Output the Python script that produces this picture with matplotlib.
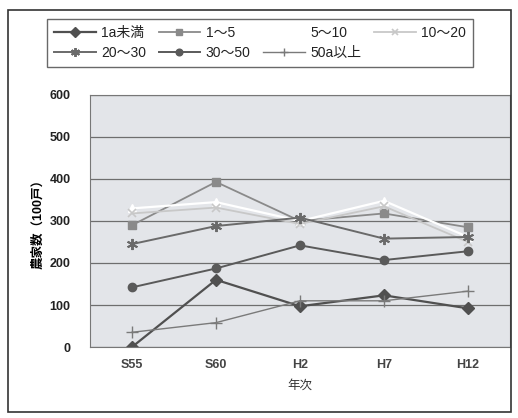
import matplotlib
matplotlib.use("Agg")
import matplotlib.pyplot as plt
from matplotlib.patches import Rectangle

plt.rcParams['font.family'] = ['Liberation Sans', 'Noto Sans CJK JP', 'DejaVu Sans']

years = ['S55', 'S60', 'H2', 'H7', 'H12']
labels = ['1a未満', '1～5', '5～10', '10～20', '20～30', '30～50', '50a以上']

# 農家数 (100戸) by farm size class
lt1 = [0, 160, 97, 123, 92]
s1_5 = [290, 393, 300, 318, 285]
s5_10 = [330, 345, 300, 348, 262]
s10_20 = [318, 332, 293, 335, 250]
s20_30 = [245, 288, 308, 258, 262]
s30_50 = [142, 187, 242, 207, 228]
ge50 = [35, 58, 110, 110, 133]

series = [lt1, s1_5, s5_10, s10_20, s20_30, s30_50, ge50]
styles = [
    dict(color='#505050', marker='D', ms=6, lw=1.6),
    dict(color='#8a8a8a', marker='s', ms=6, lw=1.3),
    dict(color='#ffffff', marker='^', ms=6, lw=1.6),
    dict(color='#c8c8c8', marker='x', ms=6, lw=1.3, mew=1.2),
    dict(color='#6a6a6a', marker=(6, 2, 0), ms=8, lw=1.4, mew=1.4),
    dict(color='#5a5a5a', marker='o', ms=6, lw=1.4),
    dict(color='#7a7a7a', marker='+', ms=8, lw=1.0, mew=1.0),
]

fig = plt.figure(figsize=(5.18, 4.18), dpi=100)
fig.patches.append(Rectangle((8 / 518, 6 / 418), 503 / 518, 402 / 418,
                             transform=fig.transFigure, fill=False,
                             ec='#333333', lw=1.2))

ax = fig.add_axes([90 / 518, 1 - 347 / 418, 420 / 518, 252 / 418])
ax.set_facecolor('#e3e5e9')

x = range(len(years))
handles = []
for ys, lab, st in zip(series, labels, styles):
    h, = ax.plot(x, ys, label=lab, **st)
    handles.append(h)

ax.set_xlim(-0.5, 4.5)
ax.set_ylim(0, 600)
ax.set_yticks(range(0, 601, 100))
ax.set_xticks(list(x))
ax.set_xticklabels(years)
ax.yaxis.grid(True, color='#6e6e6e', lw=0.9)
ax.set_axisbelow(True)
ax.tick_params(length=0, labelsize=9, colors='#222222')
ax.tick_params(axis='y', pad=14)
ax.tick_params(axis='x', pad=9, colors='#444444')
for t in ax.get_xticklabels() + ax.get_yticklabels():
    t.set_fontweight('bold')
for sp in ax.spines.values():
    sp.set_color('#777777')

ax.set_xlabel('年次', fontsize=9, labelpad=6, color='#333333')
ax.set_ylabel('農家数（100戸）', fontsize=9, labelpad=4, fontweight='bold')

order = [0, 4, 1, 5, 2, 6, 3]
leg = fig.legend([handles[i] for i in order], [labels[i] for i in order],
                 ncol=4, loc='upper left', bbox_to_anchor=(40 / 518, 1 - 12 / 418),
                 fontsize=10, frameon=True, fancybox=False, edgecolor='#444444',
                 handlelength=3.0, handletextpad=0.4, columnspacing=0.9,
                 labelspacing=0.45, borderpad=0.5, markerscale=0.8)
leg.get_frame().set_linewidth(1.0)
for t in leg.get_texts():
    t.set_color('#222222')

fig.savefig('out.png', dpi=100)
